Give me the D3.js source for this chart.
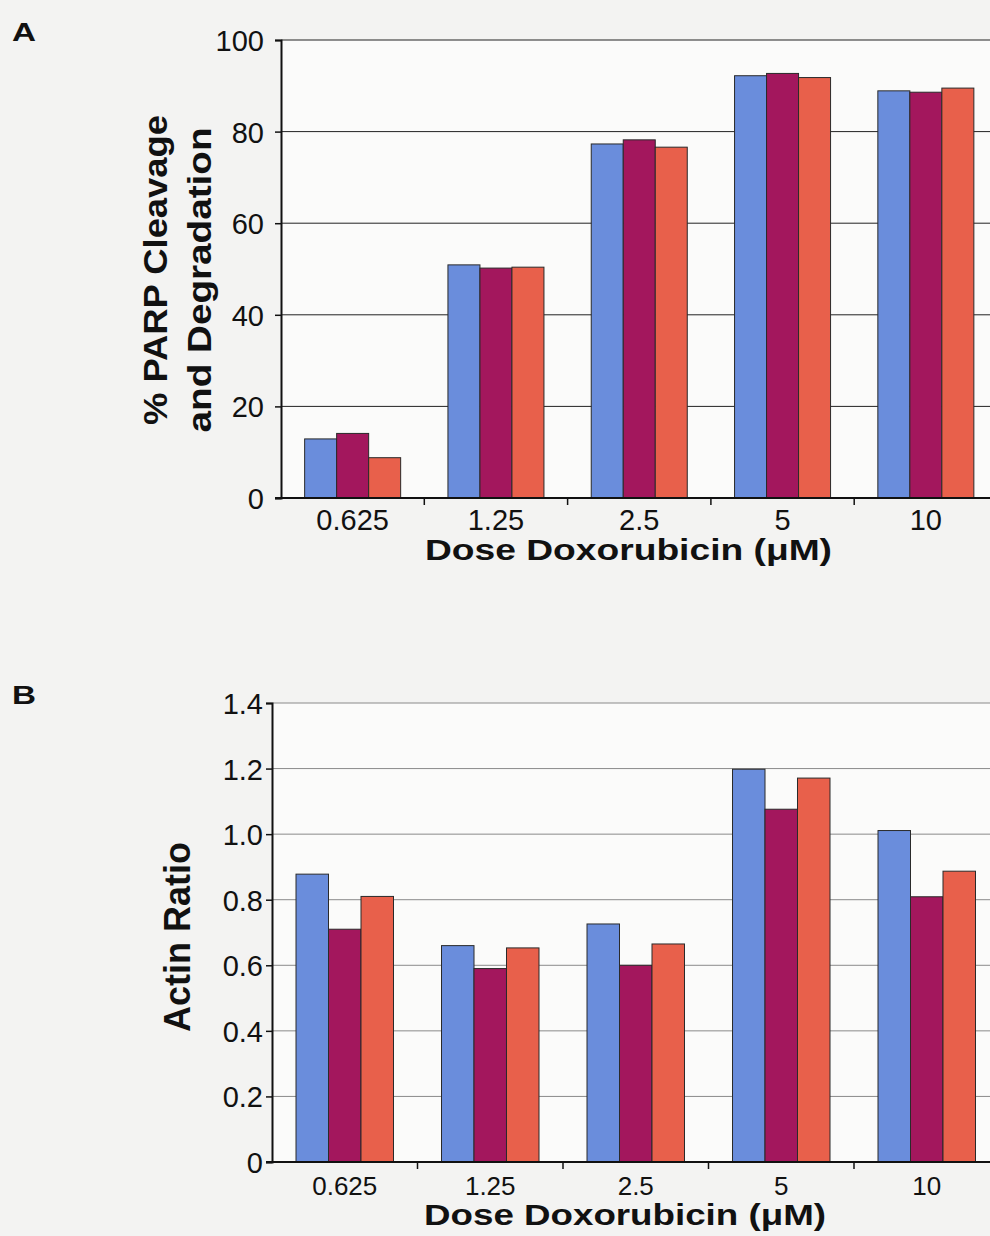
<!DOCTYPE html>
<html>
<head>
<meta charset="utf-8">
<script src="https://d3js.org/d3.v7.min.js"></script>
<style>
  body { margin: 0; background: #f3f3f2; }
  svg { display: block; }
  svg text { font-family: "Liberation Sans", Arial, sans-serif; }
  .grid-a line { stroke: #222; stroke-width: 1; }
  .grid-b line { stroke: #8a8a8a; stroke-width: 1; }
  .bar { stroke: #2a2a2a; stroke-width: 1; }
  .title { font-weight: bold; fill: #111; }
  .tick-label { fill: #111; }
</style>
</head>
<body>
<svg id="chart" width="990" height="1236"></svg>
<script>
// categories and series values
var doses = ["0.625", "1.25", "2.5", "5", "10"];
var seriesNames = ["s1", "s2", "s3"];
var seriesColors = ["#6a8ddc", "#a3175d", "#e8604b"];

var parp1 = [12.9, 50.9, 77.3, 92.2, 88.9];
var parp2 = [14.1, 50.2, 78.2, 92.7, 88.6];
var parp3 = [8.8, 50.4, 76.6, 91.8, 89.5];

var actin1 = [0.878, 0.66, 0.726, 1.198, 1.011];
var actin2 = [0.71, 0.59, 0.60, 1.076, 0.809];
var actin3 = [0.81, 0.653, 0.665, 1.171, 0.887];

var parpTicks = [0, 20, 40, 60, 80, 100];
var actinTicks = [0, 0.2, 0.4, 0.6, 0.8, 1.0, 1.2, 1.4];

var svg = d3.select("#chart");
var fontFam = "'Liberation Sans', Arial, sans-serif";

function panel(opts) {
  var g = svg.append("g");
  var x0 = d3.scaleBand()
    .domain(doses)
    .range([opts.left, opts.left + opts.step * doses.length])
    .paddingInner(0.33)
    .paddingOuter(0.165);
  var x1 = d3.scaleBand()
    .domain(seriesNames)
    .range([0, x0.bandwidth()]);
  var y = d3.scaleLinear()
    .domain(opts.domain)
    .range([opts.bottom, opts.top]);

  // plot area background
  g.append("rect")
    .attr("x", opts.left).attr("y", opts.top)
    .attr("width", 990 - opts.left).attr("height", opts.bottom - opts.top)
    .attr("fill", "#fbfbfa");

  // gridlines
  g.append("g").attr("class", opts.gridClass)
    .selectAll("line")
    .data(opts.ticks.filter(d => d > 0))
    .join("line")
    .attr("x1", opts.left).attr("x2", 990)
    .attr("y1", d => y(d)).attr("y2", d => y(d));

  // bars
  var rows = doses.map((d, i) => ({dose: d, vals: opts.series.map(s => s[i])}));
  g.append("g").selectAll("g")
    .data(rows)
    .join("g")
    .attr("transform", d => "translate(" + x0(d.dose) + ",0)")
    .selectAll("rect")
    .data(d => d.vals.map((v, j) => ({key: seriesNames[j], v: v, c: seriesColors[j]})))
    .join("rect")
    .attr("class", "bar")
    .attr("x", d => x1(d.key))
    .attr("width", x1.bandwidth())
    .attr("y", d => y(d.v))
    .attr("height", d => y(0) - y(d.v))
    .attr("fill", d => d.c);

  // y axis
  var yAxis = g.append("g")
    .attr("transform", "translate(" + opts.left + ",0)")
    .call(d3.axisLeft(y).tickValues(opts.ticks).tickSize(6).tickPadding(opts.yPad).tickFormat(opts.fmt))
    .attr("font-family", null).attr("font-size", null);
  yAxis.select(".domain").attr("stroke", "#111").attr("stroke-width", 2);
  yAxis.selectAll(".tick line").attr("stroke", "#111").attr("stroke-width", 1.5);
  yAxis.selectAll(".tick text")
    .attr("class", "tick-label")
    .style("font-family", fontFam)
    .style("font-size", opts.yFont + "px")
    .attr("dy", "0.36em");

  // x axis
  g.append("line")
    .attr("x1", opts.left - 6).attr("x2", 990)
    .attr("y1", opts.bottom).attr("y2", opts.bottom)
    .attr("stroke", "#111").attr("stroke-width", 2);
  var bounds = doses.map(d => x0(d) - x0.step() * x0.paddingInner() / 2).slice(1);
  g.append("g").selectAll("line")
    .data(bounds)
    .join("line")
    .attr("x1", d => d).attr("x2", d => d)
    .attr("y1", opts.bottom).attr("y2", opts.bottom + 7)
    .attr("stroke", "#111").attr("stroke-width", 1.5);
  g.append("g").selectAll("text")
    .data(doses)
    .join("text")
    .attr("class", "tick-label")
    .attr("x", d => x0(d) + x0.bandwidth() / 2)
    .attr("y", opts.bottom + opts.xLabDy)
    .attr("text-anchor", "middle")
    .style("font-size", opts.xFont + "px")
    .text(d => d);

  // axis titles
  g.append("text")
    .attr("class", "title")
    .attr("x", opts.xTitle.x)
    .attr("y", opts.xTitle.y)
    .attr("textLength", opts.xTitle.len)
    .attr("lengthAdjust", "spacingAndGlyphs")
    .style("font-size", opts.xTitle.size + "px")
    .text("Dose Doxorubicin (\u03bcM)");

  opts.yTitles.forEach(function(t) {
    g.append("text")
      .attr("class", "title")
      .attr("transform", "translate(" + t.x + "," + t.cy + ") rotate(-90)")
      .attr("text-anchor", "middle")
      .attr("textLength", t.len)
      .attr("lengthAdjust", "spacingAndGlyphs")
      .style("font-size", t.size + "px")
      .text(t.text);
  });

  // panel letter
  g.append("text")
    .attr("class", "title")
    .attr("x", 12).attr("y", opts.letterY)
    .attr("textLength", 24)
    .attr("lengthAdjust", "spacingAndGlyphs")
    .style("font-size", "26px")
    .text(opts.letter);
}

panel({
  letter: "A", letterY: 41,
  left: 281, step: 143.3, top: 40, bottom: 498,
  domain: [0, 100], ticks: parpTicks, fmt: d3.format("d"),
  series: [parp1, parp2, parp3],
  gridClass: "grid-a",
  yPad: 11, yFont: 29, xFont: 29, xLabDy: 32,
  xTitle: {x: 425, y: 560, len: 407, size: 29},
  yTitles: [
    {text: "% PARP Cleavage", x: 167, cy: 270, len: 310, size: 34},
    {text: "and Degradation", x: 211, cy: 280, len: 305, size: 34}
  ]
});

panel({
  letter: "B", letterY: 704,
  left: 272, step: 145.5, top: 703, bottom: 1162,
  domain: [0, 1.4], ticks: actinTicks,
  fmt: d => d === 0 ? "0" : d3.format(".1f")(d),
  series: [actin1, actin2, actin3],
  gridClass: "grid-b",
  yPad: 3, yFont: 29, xFont: 26, xLabDy: 33,
  xTitle: {x: 424, y: 1225, len: 402, size: 29},
  yTitles: [
    {text: "Actin Ratio", x: 190, cy: 937, len: 190, size: 36}
  ]
});
</script>
</body>
</html>
